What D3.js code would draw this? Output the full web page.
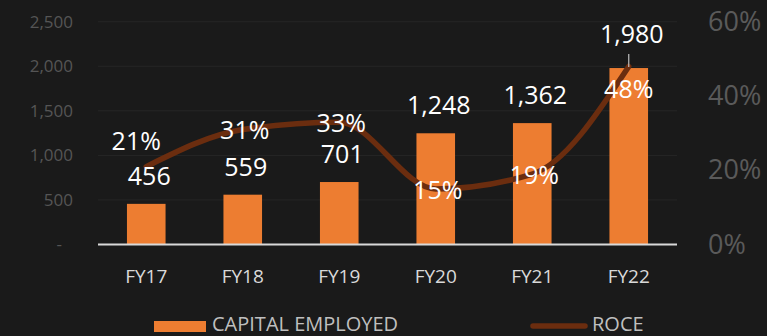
<!DOCTYPE html>
<html>
<head>
<meta charset="utf-8">
<script src="https://cdn.jsdelivr.net/npm/d3@7"></script>
<style>
  html, body { margin: 0; padding: 0; background: #1a1a1a; }
  svg { display: block; }
  text { font-family: "Open Sans", "Noto Sans", sans-serif; }
</style>
</head>
<body>
<svg id="chart" width="767" height="336"></svg>
<script>
// Capital employed (bars, left axis) and ROCE (line, right axis), FY17–FY22
const categories = ["FY17", "FY18", "FY19", "FY20", "FY21", "FY22"];
const capitalEmployed = [456, 559, 701, 1248, 1362, 1980];
const roce = [21, 31, 33, 15, 19, 48];
const leftTicks = [0, 500, 1000, 1500, 2000, 2500];
const rightTicks = [0, 20, 40, 60];
const seriesNames = ["CAPITAL EMPLOYED", "ROCE"];

const W = 767, H = 336;
const plot = { left: 98, right: 677, top: 21.7, bottom: 244.5 };
const barColor = "#ed7d31";
const lineColor = "#6b2d0f";

const svg = d3.select("#chart");
svg.append("rect").attr("width", W).attr("height", H).attr("fill", "#1a1a1a");

const x = d3.scaleBand()
  .domain(categories)
  .range([plot.left, plot.right])
  .paddingInner(0.6)
  .paddingOuter(0.3);
const yL = d3.scaleLinear().domain([0, 2500]).range([plot.bottom, plot.top]);
const yR = d3.scaleLinear().domain([0, 60]).range([plot.bottom, 22]);

// Gridlines
svg.append("g").selectAll("line")
  .data(leftTicks.filter(d => d > 0))
  .join("line")
  .attr("x1", plot.left).attr("x2", plot.right)
  .attr("y1", d => yL(d)).attr("y2", d => yL(d))
  .attr("stroke", "#262626").attr("stroke-width", 1);

// Left axis (accounting-style: zero shown as a dash)
const leftAxis = d3.axisLeft(yL).tickValues(leftTicks)
  .tickSize(0).tickPadding(0)
  .tickFormat(d => d === 0 ? "-" : d3.format(",")(d));
const gL = svg.append("g").attr("transform", `translate(73,0)`).call(leftAxis);
gL.select(".domain").remove();
gL.selectAll("text")
  .attr("fill", "#555555").attr("font-size", 17)
  .attr("x", d => d === 0 ? -11 : 0);

// Right axis
const rightAxis = d3.axisRight(yR).tickValues(rightTicks)
  .tickSize(0).tickPadding(0).tickFormat(d => d + "%");
const gR = svg.append("g").attr("transform", `translate(708,0)`).call(rightAxis);
gR.select(".domain").remove();
gR.selectAll("text").attr("fill", "#5a5a5a").attr("font-size", 27);

// Bars
svg.append("g").selectAll("rect")
  .data(capitalEmployed)
  .join("rect")
  .attr("x", (d, i) => x(categories[i]))
  .attr("width", x.bandwidth())
  .attr("y", d => yL(d))
  .attr("height", d => yL(0) - yL(d))
  .attr("fill", barColor);

// Category axis
const bottomAxis = d3.axisBottom(x).tickSize(0).tickPadding(0);
const gB = svg.append("g").attr("transform", `translate(0,${plot.bottom})`).call(bottomAxis);
gB.select(".domain")
  .attr("d", `M${plot.left},0H${plot.right}`)
  .attr("stroke", "#d9d9d9").attr("stroke-width", 2);
gB.selectAll("text")
  .attr("fill", "#d9d9d9").attr("font-size", 19)
  .attr("y", 38).attr("dy", 0);

// ROCE line
const cx = i => x(categories[i]) + x.bandwidth() / 2;
const line = d3.line()
  .x((d, i) => cx(i))
  .y(d => yR(d))
  .curve(d3.curveMonotoneX);
svg.append("path")
  .datum(roce)
  .attr("d", line)
  .attr("fill", "none")
  .attr("stroke", lineColor)
  .attr("stroke-width", 5.5)
  .attr("stroke-linecap", "round")
  .attr("stroke-linejoin", "round");

// Bar value labels; the last one is lifted clear of the ROCE label with a leader
const last = capitalEmployed.length - 1;
const barLabels = svg.append("g");
capitalEmployed.forEach((v, i) => {
  const lift = i === last ? 25 : 19;
  barLabels.append("text")
    .attr("x", cx(i) + 3)
    .attr("y", yL(v) - lift)
    .attr("text-anchor", "middle")
    .attr("fill", "#ffffff")
    .attr("font-size", 25)
    .text(d3.format(",")(v));
  if (i === last) {
    barLabels.append("line")
      .attr("x1", cx(i)).attr("x2", cx(i))
      .attr("y1", yL(v) - lift + 11).attr("y2", yL(v) - 1)
      .attr("stroke", "#bfbfbf").attr("stroke-width", 1.2);
  }
});

// ROCE value labels: centred on the point, first above-left, last below
const roceLabelShift = i => i === 0 ? [-10, -25] : i === last ? [0, 23] : [2, 1];
svg.append("g").selectAll("text")
  .data(roce)
  .join("text")
  .attr("x", (d, i) => cx(i) + roceLabelShift(i)[0])
  .attr("y", (d, i) => yR(d) + roceLabelShift(i)[1])
  .attr("dy", "0.35em")
  .attr("text-anchor", "middle")
  .attr("fill", "#ffffff")
  .attr("font-size", 25)
  .text(d => d + "%");

// Legend
const legend = svg.append("g");
legend.append("rect")
  .attr("x", 154).attr("y", 321).attr("width", 52).attr("height", 11)
  .attr("fill", barColor);
legend.append("text")
  .attr("x", 212).attr("y", 331)
  .attr("fill", "#bfbfbf").attr("font-size", 20)
  .text(seriesNames[0]);
legend.append("line")
  .attr("x1", 533).attr("x2", 585).attr("y1", 326).attr("y2", 326)
  .attr("stroke", lineColor).attr("stroke-width", 5.5)
  .attr("stroke-linecap", "round");
legend.append("text")
  .attr("x", 592).attr("y", 331)
  .attr("fill", "#bfbfbf").attr("font-size", 20)
  .text(seriesNames[1]);
</script>
</body>
</html>
